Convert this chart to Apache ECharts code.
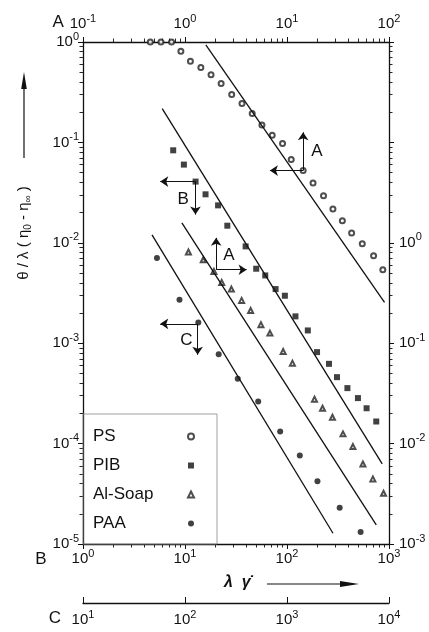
<!DOCTYPE html>
<html><head><meta charset="utf-8">
<script src="https://cdn.jsdelivr.net/npm/echarts@6/dist/echarts.min.js"></script>
<style>html,body{margin:0;padding:0;background:#fff}#c{width:429px;height:632px}</style>
</head><body><div id="c"></div>
<script>
const FONT = '"Liberation Sans", Arial, sans-serif';
const INK = '#111';

// Series names (legend order)
const seriesNames = ['PS', 'PIB', 'Al-Soap', 'PAA'];

// PS: x on top axis A, y on left axis
const psX = [0.457, 0.581, 0.738, 0.911, 1.13, 1.43, 1.80, 2.26, 2.87, 3.62, 4.56, 5.68, 7.16, 9.04, 11.0, 14.4, 18.0, 22.8, 28.2, 34.9, 43.0, 54.7, 70.6, 87.0];
const psY = [1.0, 1.0, 1.0, 0.81, 0.644, 0.557, 0.471, 0.386, 0.300, 0.244, 0.194, 0.149, 0.118, 0.0973, 0.0674, 0.0524, 0.0395, 0.0295, 0.0217, 0.0166, 0.0125, 0.0098, 0.00744, 0.00539];
// PIB: x on bottom axis B, y on left axis
const pibX = [7.66, 9.75, 12.7, 15.9, 21.1, 26.0, 39.3, 49.9, 61.2, 77.3, 95.3, 121, 160, 197, 258, 309, 391, 496, 603, 750];
const pibY = [0.0834, 0.0601, 0.0407, 0.0304, 0.0236, 0.0148, 0.00921, 0.00552, 0.00473, 0.00346, 0.00297, 0.00185, 0.00134, 0.000815, 0.000623, 0.000459, 0.000357, 0.000284, 0.000225, 0.000166];
// Al-Soap: x on top axis A, y on right axis
const alX = [1.08, 1.51, 1.92, 2.29, 2.85, 3.59, 4.40, 5.55, 6.80, 9.17, 11.3, 18.6, 22.3, 27.9, 35.4, 44.3, 55.5, 69.5, 88.4];
const alY = [0.81, 0.679, 0.519, 0.403, 0.346, 0.267, 0.212, 0.153, 0.126, 0.0827, 0.0633, 0.0277, 0.0225, 0.0183, 0.0125, 0.00934, 0.00627, 0.00445, 0.0032];
// PAA: x on axis C, y on left axis
const paaX = [53.1, 88.3, 135, 214, 329, 522, 857, 1335, 1988, 3284, 5267];
const paaY = [0.00706, 0.00271, 0.00161, 0.000778, 0.000442, 0.000262, 0.000132, 7.59e-5, 4.22e-5, 2.30e-5, 1.32e-5];

// Straight reference lines (two end points each)
const psLineX = [1.60, 90.4], psLineY = [0.938, 0.00255];
const pibLineX = [5.98, 858], pibLineY = [0.217, 6.27e-5];
const alLineX = [0.932, 75.0], alLineY = [1.58, 0.00155];
const paaLineX = [47.5, 2824], paaLineY = [0.0120, 1.28e-5];

// Axis-indicator arrows: origin, horizontal end, vertical end, label position, label
const psArrow = { o: [14.4, 0.0524], h: [6.80, 0.0524], v: [14.4, 0.126], t: [19.6, 0.081], label: 'A' };
const pibArrow = { o: [12.66, 0.0407], h: [5.72, 0.0407], v: [12.66, 0.0191], t: [9.6, 0.0269], label: 'B' };
const alArrow = { o: [2.02, 0.539], h: [4.02, 0.539], v: [2.02, 1.12], t: [2.70, 0.744], label: 'A' };
const paaArrow = { o: [133, 0.00156], h: [57.2, 0.00156], v: [133, 0.000766], t: [103, 0.00108], label: 'C' };

const zip = (a, b) => a.map((v, i) => [v, b[i]]);

function pow10(v) {
  const e = Math.round(Math.log10(v));
  return '{b|10}{s|' + (e < 0 ? '-' + (-e) : String(e)) + '}';
}
const rich = {
  b: { fontSize: 15, fontFamily: FONT, color: INK },
  s: { fontSize: 11, fontFamily: FONT, color: INK, padding: [0, 0, 11, 0] }
};
const TICK = { inside: false, length: 5, lineStyle: { color: INK, width: 1 } };
const MINOR = { show: true, splitNumber: 9, length: 3.5, lineStyle: { color: INK, width: 0.9 } };

function axisBase(extra) {
  return Object.assign({
    type: 'log', logBase: 10,
    axisLine: { onZero: false, lineStyle: { color: INK, width: 1.3 } },
    axisTick: TICK, minorTick: MINOR,
    splitLine: { show: false }, minorSplitLine: { show: false },
    axisLabel: { formatter: pow10, rich: rich, margin: 4 }
  }, extra);
}

function arrowMarks(a) {
  return {
    markLine: {
      silent: true, animation: false, symbol: ['none', 'arrow'], symbolSize: 8,
      label: { show: false }, lineStyle: { color: INK, width: 1, type: 'solid' },
      emphasis: { disabled: true },
      data: [[{ coord: a.o }, { coord: a.h }], [{ coord: a.o }, { coord: a.v }]]
    },
    markPoint: {
      silent: true, animation: false, symbol: 'circle', symbolSize: 1,
      itemStyle: { color: 'rgba(0,0,0,0)' },
      label: { show: true, position: 'inside', formatter: a.label, color: INK, fontSize: 17, fontFamily: FONT },
      data: [{ coord: a.t }]
    }
  };
}

const chart = echarts.init(document.getElementById('c'), null, { renderer: 'canvas' });
chart.setOption({
  animation: false,
  backgroundColor: '#fff',
  grid: { left: 83, right: 40, top: 42, bottom: 88, containLabel: false },
  xAxis: [
    axisBase({ position: 'bottom', min: 1, max: 1000, name: 'B', nameLocation: 'start', nameGap: 19,
      nameTextStyle: { fontSize: 17, fontFamily: FONT, color: INK, verticalAlign: 'top', padding: [7, 0, 0, 0] } }),
    axisBase({ position: 'top', min: 0.1, max: 100, name: 'A', nameLocation: 'start', nameGap: 15,
      axisLabel: { formatter: pow10, rich: rich, margin: 7 },
      nameTextStyle: { fontSize: 17, fontFamily: FONT, color: INK, verticalAlign: 'bottom', padding: [0, 0, 11, 0] } }),
    axisBase({ position: 'bottom', offset: 59, min: 10, max: 10000, name: 'C', nameLocation: 'start', nameGap: 22,
      axisTick: { inside: true, length: 6, lineStyle: { color: INK, width: 1 } },
      minorTick: { show: false },
      axisLabel: { formatter: pow10, rich: rich, margin: 6 },
      nameTextStyle: { fontSize: 17, fontFamily: FONT, color: INK, verticalAlign: 'top', padding: [7, 0, 0, 0] } })
  ],
  yAxis: [
    axisBase({ position: 'left', min: 1e-5, max: 1,
      axisLabel: { formatter: pow10, rich: rich, margin: 4 } }),
    axisBase({ position: 'right', min: 1e-3, max: 100,
      axisLabel: { formatter: v => (v > 1.5 ? '' : pow10(v)), rich: rich, margin: 10 } })
  ],
  legend: {
    data: seriesNames, orient: 'vertical', left: 83, top: 414, align: 'right',
    itemWidth: 6, itemHeight: 6, itemGap: 12, padding: [14, 22, 12, 10],
    borderColor: '#888', borderWidth: 0.8, selectedMode: false,
    formatter: n => '{t|' + n + '}',
    textStyle: { fontSize: 17, fontFamily: FONT, color: INK,
      rich: { t: { width: 90, align: 'left', fontSize: 17, fontFamily: FONT, color: INK } } }
  },
  series: [
    Object.assign({ name: 'PS', type: 'scatter', xAxisIndex: 1, yAxisIndex: 0, clip: false,
      symbol: 'emptyCircle', symbolSize: 5, itemStyle: { color: '#222', borderWidth: 0.7 },
      data: zip(psX, psY) }, arrowMarks(psArrow)),
    Object.assign({ name: 'PIB', type: 'scatter', xAxisIndex: 0, yAxisIndex: 0, clip: false,
      symbol: 'rect', symbolSize: 6, itemStyle: { color: INK },
      data: zip(pibX, pibY) }, arrowMarks(pibArrow)),
    Object.assign({ name: 'Al-Soap', type: 'scatter', xAxisIndex: 1, yAxisIndex: 1, clip: false,
      symbol: 'emptyTriangle', symbolSize: 5, itemStyle: { color: '#222', borderWidth: 0.7 },
      data: zip(alX, alY) }, arrowMarks(alArrow)),
    Object.assign({ name: 'PAA', type: 'scatter', xAxisIndex: 2, yAxisIndex: 0, clip: false,
      symbol: 'circle', symbolSize: 6, itemStyle: { color: INK },
      data: zip(paaX, paaY) }, arrowMarks(paaArrow)),
    { name: 'PS fit', type: 'line', xAxisIndex: 1, yAxisIndex: 0, symbol: 'none', silent: true,
      lineStyle: { color: INK, width: 1.3 }, data: zip(psLineX, psLineY) },
    { name: 'PIB fit', type: 'line', xAxisIndex: 0, yAxisIndex: 0, symbol: 'none', silent: true,
      lineStyle: { color: INK, width: 1.3 }, data: zip(pibLineX, pibLineY) },
    { name: 'Al-Soap fit', type: 'line', xAxisIndex: 1, yAxisIndex: 1, symbol: 'none', silent: true,
      lineStyle: { color: INK, width: 1.3 }, data: zip(alLineX, alLineY) },
    { name: 'PAA fit', type: 'line', xAxisIndex: 2, yAxisIndex: 0, symbol: 'none', silent: true,
      lineStyle: { color: INK, width: 1.3 }, data: zip(paaLineX, paaLineY) }
  ],
  graphic: [
    { type: 'text', x: 24, y: 233, rotation: Math.PI / 2, silent: true,
      style: { text: '{m|θ / λ ( η}{u|0}{m| - η}{u|∞}{m| )}', align: 'center', verticalAlign: 'middle',
        rich: { m: { fontSize: 15, fontFamily: FONT, fill: INK, color: INK },
                u: { fontSize: 10, fontFamily: FONT, fill: INK, color: INK, padding: [8, 0, 0, 0] } } } },
    { type: 'line', silent: true, shape: { x1: 24, y1: 158, x2: 24, y2: 86 }, style: { stroke: INK, lineWidth: 1.2 } },
    { type: 'polygon', silent: true, shape: { points: [[24, 72], [21.2, 89], [26.8, 89]] }, style: { fill: INK } },
    { type: 'text', x: 224, y: 583, silent: true,
      style: { text: 'λ  γ̇', fontSize: 16, fontWeight: 'bold', fontStyle: 'italic', fontFamily: FONT, fill: INK, verticalAlign: 'middle' } },
    { type: 'line', silent: true, shape: { x1: 267, y1: 584, x2: 344, y2: 584 }, style: { stroke: INK, lineWidth: 1.2 } },
    { type: 'polygon', silent: true, shape: { points: [[359, 584], [340, 581], [340, 587]] }, style: { fill: INK } }
  ]
});
</script>
</body></html>
